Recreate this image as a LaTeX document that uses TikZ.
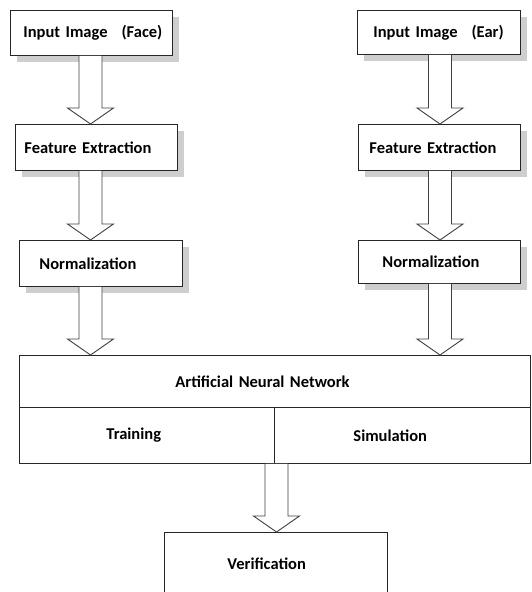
\documentclass[tikz,border=0pt]{standalone}
\usepackage{fontspec}
\setmainfont{Carlito}
\usetikzlibrary{calc,shadows}

% hollow block arrow from the bottom of #1 to the top of #2, along column #3
\newcommand{\hollowarrow}[3]{%
  \filldraw[harrow] let \p1=(#1.south -| #3), \p2=(#2.north -| #3) in
    (\x1-11.5pt,\y1) -- (\x1-11.5pt,\y2+16pt) -- (\x1-23pt,\y2+16pt) -- (\x1,\y2)
    -- (\x1+23pt,\y2+16pt) -- (\x1+11.5pt,\y2+16pt) -- (\x1+11.5pt,\y1);}

\begin{document}
\begin{tikzpicture}[
        x=1pt, y=-1pt,
        font=\fontsize{16.5}{19}\selectfont\bfseries,
        box/.style ={draw=black!85, line width=.9pt, fill=white, anchor=north west, inner sep=0pt, align=left},
        shade/.style ={drop shadow={shadow xshift=7pt, shadow yshift=-7pt, fill=black!35, opacity=.55}},
        pad/.style ={execute at begin node=\hspace*{#1}},
        harrow/.style ={draw=black!75, line width=.9pt, fill=white, line join=miter},
    ]
    \useasboundingbox (0,0) rectangle (532,592);

    \coordinate (colL) at (90.5,0);
    \coordinate (colR) at (440,0);
    \coordinate (colM) at (276.5,0);

    % face branch
    \node[box, shade, pad=13pt, text width=162pt, minimum height=45pt] (faceIn) at (10,10) {Input Image\hspace{.85em}(Face)};
    \node[box, shade, pad=9pt, text width=162pt, minimum height=46pt] (featL) at (15,124) {Feature Extraction};
    \node[box, shade, pad=20pt, text width=163pt, minimum height=46pt] (normL) at (19,240) {Normalization};

    % ear branch
    \node[box, shade, pad=16pt, text width=163pt, minimum height=44pt] (earIn) at (357,10) {Input Image\hspace{.85em}(Ear)};
    \node[box, shade, pad=11pt, text width=162pt, minimum height=46pt] (featR) at (358,124) {Feature Extraction};
    \node[box, shade, pad=24pt, text width=162pt, minimum height=43pt] (normR) at (358,240) {Normalization};

    % network
    \node[box, pad=156pt, text width=511pt, minimum height=52pt] (ann) at (19,355) {Artificial Neural Network};
    \node[box, pad=87pt, text width=255pt, minimum height=56pt] (train) at (19,407) {Training};
    \node[box, pad=79pt, text width=256pt, minimum height=56pt] (sim) at (274,407) {Simulation};

    \node[box, pad=63pt, text width=223pt, minimum height=62pt] (verify) at (164,532) {Verification};

    \hollowarrow{faceIn}{featL}{colL}
    \hollowarrow{featL}{normL}{colL}
    \hollowarrow{normL}{ann}{colL}
    \hollowarrow{earIn}{featR}{colR}
    \hollowarrow{featR}{normR}{colR}
    \hollowarrow{normR}{ann}{colR}
    \hollowarrow{train}{verify}{colM}

\end{tikzpicture}
\end{document}
